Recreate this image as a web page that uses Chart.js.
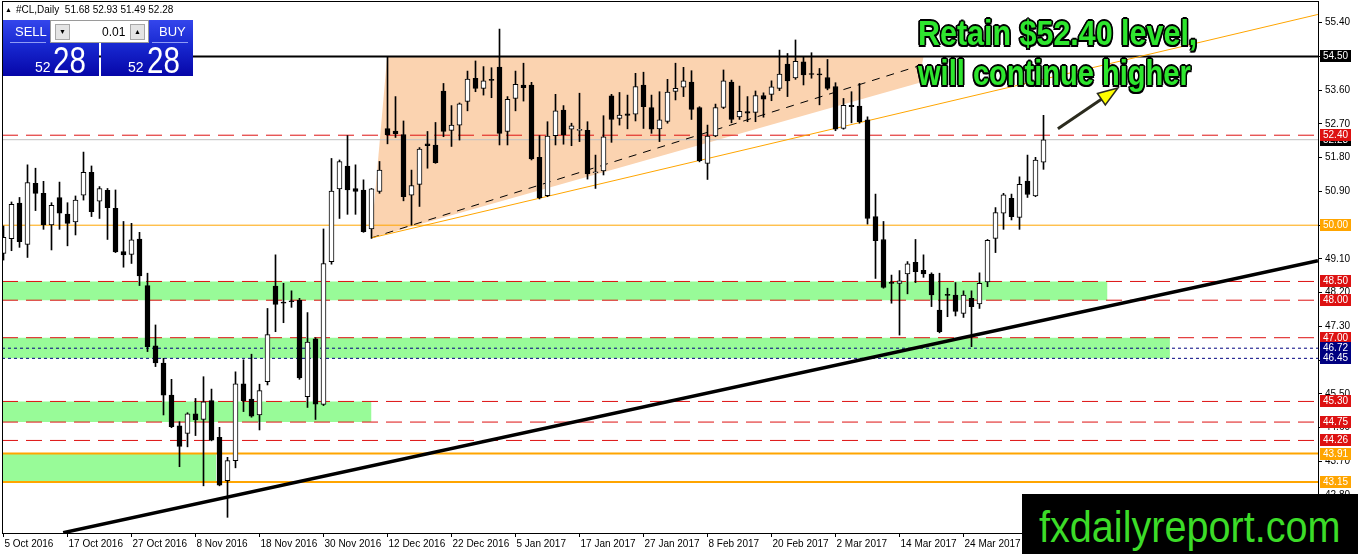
<!DOCTYPE html>
<html>
<head>
<meta charset="utf-8">
<script src="https://cdn.jsdelivr.net/npm/chart.js@4.4.1/dist/chart.umd.min.js"></script>
<style>
  body { margin: 0; background: #fff; overflow: hidden; }
  #wrap { position: relative; width: 1358px; height: 554px; font-family: "Liberation Sans", Arial, sans-serif; }
  #cl { position: absolute; left: 0; top: 0; }
  .abs { position: absolute; white-space: nowrap; line-height: 1; }
  .hdr { left: 5px; top: 5px; font-size: 10px; color: #000; }
  .hdr .tri { font-size: 7px; vertical-align: 1px; margin-right: 4px; }
  .box { position: absolute; top: 20px; height: 56px; background: linear-gradient(#3446ec, #1828d0 45%, #0606a8); }
  .lbl { color: #fff; font-size: 13px; }
  .sm { color: #fff; font-size: 14px; }
  .big { color: #fff; font-size: 36px; transform: scaleX(0.82); transform-origin: left top; }
  .ctl { left: 50px; top: 20px; width: 97px; height: 21px; background: #fff; border: 1px solid #9a9a9a; }
  .btn { position: absolute; top: 3px; width: 13px; height: 14px; background: #e4e4e4; border: 1px solid #a8a8a8; font-size: 7px; text-align: center; line-height: 14px; color: #000; }
  .note { left: 918px; font-size: 35px; font-weight: bold; color: #2ee62e; transform-origin: left top;
          text-shadow: -1.5px -1.5px 0 #000, 1.5px -1.5px 0 #000, -1.5px 1.5px 0 #000, 1.5px 1.5px 0 #000, 0 -2px 0 #000, 0 2px 0 #000, -2px 0 0 #000, 2px 0 0 #000; }
  .wm { left: 1022px; top: 494px; width: 336px; height: 60px; background: #000; }
  .wm span { position: absolute; left: 17px; top: 11px; font-size: 44px; color: #3cdc28; line-height: 1; transform: scaleX(0.9); transform-origin: left top; white-space: nowrap; }
</style>
</head>
<body>
<div id="wrap">
  <canvas id="cl" width="1358" height="554"></canvas>

  <div class="abs hdr"><span class="tri">▲</span>#CL,Daily&nbsp; 51.68 52.93 51.49 52.28</div>

  <div class="box" style="left:3px;width:96px;"></div>
  <div class="box" style="left:101px;width:92px;"></div>
  <div class="abs" style="left:10px;top:42px;width:36px;height:1px;background:#8f9cf5;"></div>
  <div class="abs" style="left:152px;top:42px;width:36px;height:1px;background:#8f9cf5;"></div>
  <div class="abs lbl" style="left:15px;top:25px;">SELL</div>
  <div class="abs lbl" style="left:159px;top:25px;">BUY</div>
  <div class="abs sm" style="left:35px;top:60px;">52</div>
  <div class="abs big" style="left:53px;top:43px;">28</div>
  <div class="abs sm" style="left:128px;top:60px;">52</div>
  <div class="abs big" style="left:147px;top:43px;">28</div>
  <div class="abs ctl">
    <div class="btn" style="left:4px;">▼</div>
    <div class="abs" style="left:51px;top:5px;font-size:12px;color:#000;">0.01</div>
    <div class="btn" style="left:79px;">▲</div>
  </div>

  <div class="abs note" style="top:15px;transform:scaleX(0.87);">Retain $52.40 level,</div>
  <div class="abs note" style="top:55px;transform:scaleX(0.83);">will continue higher</div>

  <div class="abs wm"><span>fxdailyreport.com</span></div>
</div>

<script>
// #CL daily candles, 5 Oct 2016 .. 7 Apr 2017
const opens = [49.25,49.64,50.59,49.49,51.12,50.85,50.01,50.74,50.30,50.09,
  50.80,51.41,50.64,50.93,50.45,49.30,49.22,49.63,48.39,46.78,
  46.32,45.47,44.65,44.45,44.97,44.82,45.32,44.34,43.19,43.72,
  45.77,45.36,44.94,45.83,48.38,47.95,47.98,48.00,45.43,46.97,
  45.22,49.03,50.97,51.58,50.98,50.94,49.90,50.90,52.58,52.51,
  52.42,50.80,51.09,52.17,52.14,53.58,52.53,52.67,53.30,53.92,
  53.65,53.89,54.22,52.50,53.38,53.74,53.74,51.81,50.79,52.39,
  53.07,52.56,52.53,52.53,51.40,51.45,53.45,52.85,52.97,52.96,
  53.74,53.14,52.57,52.77,53.57,53.68,53.82,53.14,51.65,52.38,
  53.14,53.82,52.89,53.03,53.01,53.46,53.49,53.65,54.30,53.93,
  54.36,54.03,54.03,53.94,53.70,52.58,53.20,53.18,52.81,50.23,
  49.62,48.46,48.45,48.70,49.01,48.80,48.70,47.74,48.15,48.14,
  47.65,48.05,47.90,48.49,49.65,50.32,50.72,50.21,51.18,50.78,
  51.68];
const highs = [49.98,50.62,50.74,51.61,51.52,51.17,50.60,51.15,50.60,50.78,
  51.95,51.58,51.03,50.98,50.94,50.10,50.05,49.81,48.72,47.34,
  46.45,45.89,44.76,45.00,45.38,45.96,45.63,44.61,43.81,46.09,
  46.41,46.56,45.76,47.78,49.21,48.45,48.25,48.05,47.67,47.00,
  49.90,51.78,51.74,52.39,51.61,51.21,50.98,51.70,54.50,53.43,
  52.78,51.47,52.07,52.50,52.74,53.78,53.19,53.26,54.11,54.38,
  54.23,54.20,55.23,53.43,54.11,54.32,53.81,52.39,52.76,53.49,
  53.19,52.72,53.52,52.76,51.87,52.92,53.49,53.54,53.47,54.05,
  54.08,53.47,53.56,53.89,54.32,54.21,54.12,53.16,52.67,53.23,
  54.14,53.87,53.71,53.43,53.58,53.53,53.85,54.67,54.58,54.94,
  54.50,54.60,54.18,54.42,53.80,53.38,53.56,53.78,52.89,50.83,
  50.10,48.67,48.79,49.03,49.62,49.21,48.73,48.72,48.32,48.47,
  48.25,48.25,48.73,49.62,50.47,50.85,50.83,51.29,51.87,51.81,
  52.93];
const lows = [49.07,49.32,49.41,49.14,50.39,49.89,49.34,49.89,49.45,49.74,
  50.67,50.23,50.18,49.62,49.27,48.88,48.98,48.39,46.63,46.23,
  44.94,44.60,43.56,44.09,44.39,43.05,44.25,43.05,42.21,43.53,
  45.03,44.88,44.54,45.74,47.16,47.40,47.81,45.89,45.14,44.82,
  45.19,48.96,50.18,50.29,50.29,49.81,49.65,50.85,52.17,52.34,
  50.65,50.00,50.50,51.52,51.65,52.36,52.10,52.27,53.05,53.56,
  53.47,53.40,52.14,52.14,53.05,53.31,51.74,50.70,50.76,52.14,
  52.16,52.12,52.23,51.23,50.98,51.34,52.21,52.67,52.57,52.78,
  52.58,52.45,52.23,52.72,53.34,53.43,52.82,51.69,51.22,52.36,
  53.11,52.73,52.82,52.76,52.76,52.88,53.32,53.59,53.43,53.89,
  53.74,53.92,53.21,53.61,52.52,52.56,52.73,52.72,50.03,48.58,
  48.32,47.92,47.07,48.17,48.47,48.61,47.83,47.13,47.56,47.58,
  47.54,46.76,47.78,48.36,49.27,49.89,50.14,49.89,50.74,50.76,
  51.49];
const closes = [49.68,50.56,49.56,51.14,50.85,50.01,50.53,50.32,50.05,50.67,
  51.41,50.36,50.98,50.47,49.29,49.21,49.61,48.65,46.76,46.33,
  45.47,44.63,44.10,44.97,44.81,45.29,44.27,43.07,43.72,45.77,
  45.32,44.91,45.59,47.08,47.89,47.92,47.96,45.93,46.88,45.23,
  48.98,50.91,51.70,50.94,50.90,49.83,50.97,51.47,52.41,52.44,
  50.76,51.06,52.03,52.12,51.67,52.50,52.67,53.24,53.90,53.65,
  53.85,53.86,52.45,53.36,53.76,53.67,51.77,50.73,52.38,53.05,
  52.41,52.65,52.54,51.37,51.41,52.36,52.82,52.94,52.93,53.70,
  53.16,52.56,52.81,53.55,53.65,53.85,53.09,51.72,52.38,53.14,
  53.85,52.82,53.04,52.99,53.46,53.36,53.69,54.03,53.85,54.37,
  54.01,54.02,54.01,53.65,52.56,53.20,53.16,52.76,50.18,49.59,
  48.34,48.45,48.52,48.97,48.76,48.70,48.14,47.16,48.13,47.70,
  48.14,47.83,48.45,49.60,50.34,50.81,50.23,51.09,50.82,51.74,
  52.28];

// one date label every 8 bars
const tickLabels = ['5 Oct 2016','17 Oct 2016','27 Oct 2016','8 Nov 2016','18 Nov 2016','30 Nov 2016',
  '12 Dec 2016','22 Dec 2016','5 Jan 2017','17 Jan 2017','27 Jan 2017','8 Feb 2017',
  '20 Feb 2017','2 Mar 2017','14 Mar 2017','24 Mar 2017'];
const yTicks = [55.40,54.50,53.60,52.70,51.80,50.90,50.00,49.10,48.20,47.30,46.40,45.50,44.60,43.70,42.80];

// drawn objects
const resistance = 54.50;
const bid = 52.28;
const redLevels = [52.40, 48.50, 48.00, 47.00, 45.30, 44.75, 44.26];
const blueLevels = [46.72, 46.45];
const orangeLevels = [50.00, 43.91, 43.15];
const zoneTops = [48.50, 47.00, 45.30, 43.91];
const zoneBottoms = [48.00, 46.45, 44.75, 43.15];
const zoneEnds = [138.0, 145.8, 46.0, 26.6];          // bar index where each box stops
const wedgeX = [45.96, 47.96, 115.0, 114.4, 45.96];
const wedgeY = [49.66, 54.50, 54.50, 53.79, 49.66];
const wedgeBaseX = [45.96, 164.3], wedgeBaseY = [49.66, 55.62];
const wedgeMidX = [45.96, 115.2], wedgeMidY = [49.66, 54.30];
const supportX = [7.46, 164.3], supportY = [41.80, 49.05];
const arrowX = [131.8, 139.3], arrowY = [52.57, 53.66];

const X_MIN = -0.1875, X_MAX = X_MIN + 1316 / 8;
const Y_MAX = 55.979, Y_MIN = 41.792;

const RED = '#dd1111', ORANGE = '#ffa500', NAVY = '#000080';

const pts = (xs, ys) => xs.map((x, i) => ({x: x, y: ys[i]}));
function seg(xs, ys, color, width, dash, order) {
  return {type: 'line', data: pts(xs, ys), borderColor: color, borderWidth: width,
          borderDash: dash, pointRadius: 0, fill: false, order: order};
}
function hLine(v, color, width, dash, order) {
  return seg([X_MIN, X_MAX], [v, v], color, width, dash, order);
}

const datasets = [];
datasets.push({type: 'bar', data: opens.map((o, i) => ({x: i, y: [o, closes[i]]})),
  backgroundColor: opens.map((o, i) => closes[i] >= o ? '#ffffff' : '#000000'),
  borderColor: '#000', borderWidth: 1, borderSkipped: false, barThickness: 5,
  minBarLength: 1, grouped: false, order: 1});
datasets.push({type: 'bar', data: highs.map((h, i) => ({x: i, y: [lows[i], h]})),
  backgroundColor: '#000', barThickness: 1, grouped: false, order: 2});
datasets.push(seg(supportX, supportY, '#000', 3.5, [], 5));
datasets.push(seg(wedgeBaseX, wedgeBaseY, ORANGE, 1, [], 6));
datasets.push(seg(wedgeMidX, wedgeMidY, '#000', 1, [8, 7], 6));
datasets.push(hLine(resistance, '#000', 2, [], 8));
orangeLevels.forEach((v, k) => datasets.push(hLine(v, ORANGE, k ? 2 : 1, [], 9)));
redLevels.forEach(v => datasets.push(hLine(v, RED, 1, [16, 8], 9)));
blueLevels.forEach(v => datasets.push(hLine(v, NAVY, 1, [3, 3], 9)));
datasets.push(hLine(bid, '#c0c0c0', 1, [], 10));
datasets.push({type: 'line', data: pts(wedgeX, wedgeY), borderWidth: 0, pointRadius: 0,
  fill: 'shape', backgroundColor: '#fbd3b0', order: 19});
zoneTops.forEach((t, k) => datasets.push({type: 'line',
  data: pts([X_MIN, zoneEnds[k]], [t, t]), borderWidth: 0, pointRadius: 0,
  fill: {value: zoneBottoms[k]}, backgroundColor: '#98fb98', order: 20}));

const priceTags = [[resistance, '#000'], [bid, '#000'], [52.40, RED]]
  .concat(orangeLevels.map(v => [v, ORANGE]))
  .concat(redLevels.slice(1).map(v => [v, RED]))
  .concat(blueLevels.map(v => [v, NAVY]));

const overlay = {
  id: 'overlay',
  afterDatasetsDraw(chart) {
    const {ctx} = chart, xs = chart.scales.x, ys = chart.scales.y;
    const p0 = {x: xs.getPixelForValue(arrowX[0]), y: ys.getPixelForValue(arrowY[0])};
    const p1 = {x: xs.getPixelForValue(arrowX[1]), y: ys.getPixelForValue(arrowY[1])};
    const a = Math.atan2(p1.y - p0.y, p1.x - p0.x), L = 20, W = 7;
    const bx = p1.x - L * Math.cos(a), by = p1.y - L * Math.sin(a);
    ctx.save();
    ctx.strokeStyle = '#2b2b1e';
    ctx.lineWidth = 3;
    ctx.beginPath(); ctx.moveTo(p0.x, p0.y); ctx.lineTo(bx, by); ctx.stroke();
    ctx.beginPath();
    ctx.moveTo(p1.x, p1.y);
    ctx.lineTo(bx + W * Math.sin(a), by - W * Math.cos(a));
    ctx.lineTo(bx - W * Math.sin(a), by + W * Math.cos(a));
    ctx.closePath();
    ctx.fillStyle = '#ffff00'; ctx.fill();
    ctx.lineWidth = 1.5; ctx.stroke();
    ctx.restore();
  },
  afterDraw(chart) {
    const {ctx, chartArea: c} = chart, ys = chart.scales.y;
    ctx.save();
    ctx.strokeStyle = '#000'; ctx.lineWidth = 1;
    ctx.strokeRect(c.left + 0.5, c.top + 0.5, c.right - c.left, c.bottom - c.top);
    ctx.font = '10px "Liberation Sans"';
    ctx.textBaseline = 'middle';
    priceTags.forEach(([v, col]) => {
      const y = Math.round(ys.getPixelForValue(v));
      ctx.fillStyle = col;
      ctx.fillRect(c.right + 2, y - 6, 31, 12);
      ctx.fillStyle = '#fff';
      ctx.fillText(v.toFixed(2), c.right + 5, y + 0.5);
    });
    ctx.restore();
  }
};

Chart.defaults.font.family = '"Liberation Sans", Arial, sans-serif';
Chart.defaults.color = '#000';

new Chart('cl', {
  type: 'bar',
  data: {datasets: datasets},
  options: {
    responsive: false,
    animation: false,
    events: [],
    layout: {padding: {left: 2, top: 1, right: 0, bottom: 0}},
    plugins: {legend: {display: false}, tooltip: {enabled: false}},
    scales: {
      x: {
        type: 'linear', min: X_MIN, max: X_MAX, offset: false,
        afterBuildTicks: s => { s.ticks = tickLabels.map((_, k) => ({value: k * 8})); },
        afterFit: s => { s.height = 21; s.paddingLeft = 0; s.paddingRight = 0; },
        grid: {drawOnChartArea: false, offset: false, tickLength: 4, color: '#000'},
        border: {color: '#000'},
        ticks: {autoSkip: false, maxRotation: 0, minRotation: 0, align: 'start', labelOffset: 1,
                padding: 1, font: {size: 10}, callback: (v, i) => tickLabels[i]}
      },
      y: {
        position: 'right', min: Y_MIN, max: Y_MAX, beginAtZero: false,
        afterBuildTicks: s => { s.ticks = yTicks.map(v => ({value: v})); },
        afterFit: s => { s.width = 40; s.paddingTop = 0; s.paddingBottom = 0; },
        grid: {drawOnChartArea: false, tickLength: 4, color: '#000'},
        border: {color: '#000'},
        ticks: {padding: 3, font: {size: 10}, callback: v => v.toFixed(2)}
      }
    }
  },
  plugins: [overlay]
});
</script>
</body>
</html>
